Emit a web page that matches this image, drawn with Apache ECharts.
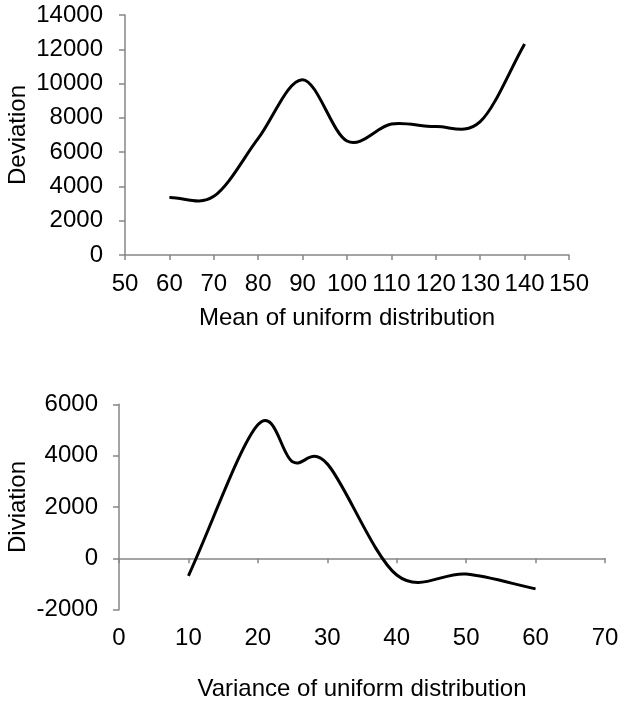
<!DOCTYPE html>
<html>
<head>
<meta charset="utf-8">
<script src="https://cdn.jsdelivr.net/npm/echarts@6/dist/echarts.min.js"></script>
<style>
html,body{margin:0;padding:0;background:#fff;}
#chart{width:619px;height:704px;}
</style>
</head>
<body>
<div id="chart"></div>
<script>
// ---- Data ----
var meanX = [60, 70, 80, 90, 100, 110, 120, 130, 140];
var meanDeviation = [3350, 3420, 6800, 10230, 6650, 7640, 7490, 7780, 12310];

var varianceX = [10, 20, 25, 30, 40, 50, 60];
var varianceDeviation = [-680, 5200, 3760, 3680, -650, -610, -1190];

var topXTicks = {min: 50, max: 150, interval: 10};
var topYTicks = {min: 0, max: 14000, interval: 2000};
var botXTicks = {min: 0, max: 70, interval: 10};
var botYTicks = {min: -2000, max: 6000, interval: 2000};

var FONT = "'Liberation Sans', Arial, sans-serif";
var AXIS_COLOR = '#868686';
var FS = 24;

// Excel-like smoothed line (Catmull-Rom with 1/6 tangents) drawn through the axis scales
function smoothRenderer(xs, ys) {
  return function (params, api) {
    if (params.dataIndex !== 0) return null;
    var pts = xs.map(function (x, i) { return api.coord([x, ys[i]]); });
    var n = pts.length;
    var first = [2 * pts[0][0] - pts[1][0], 2 * pts[0][1] - pts[1][1]];
    var last = [2 * pts[n - 1][0] - pts[n - 2][0], 2 * pts[n - 1][1] - pts[n - 2][1]];
    var d = 'M ' + pts[0][0] + ' ' + pts[0][1];
    for (var i = 0; i < n - 1; i++) {
      var p0 = i > 0 ? pts[i - 1] : first, p1 = pts[i], p2 = pts[i + 1];
      var p3 = i + 2 < n ? pts[i + 2] : last;
      var c1x = p1[0] + (p2[0] - p0[0]) / 6, c1y = p1[1] + (p2[1] - p0[1]) / 6;
      var c2x = p2[0] - (p3[0] - p1[0]) / 6, c2y = p2[1] - (p3[1] - p1[1]) / 6;
      d += ' C ' + c1x + ' ' + c1y + ' ' + c2x + ' ' + c2y + ' ' + p2[0] + ' ' + p2[1];
    }
    return {
      type: 'path',
      shape: {pathData: d},
      style: {stroke: '#000', fill: null, lineWidth: 3, lineJoin: 'round', lineCap: 'butt'}
    };
  };
}

function pairs(xs, ys) { return xs.map(function (x, i) { return [x, ys[i]]; }); }
function plain(v) { return String(v); }

var labelStyle = {color: '#000', fontSize: FS, fontFamily: FONT, formatter: plain};
var nameStyle = {color: '#000', fontSize: FS, fontFamily: FONT};
var lineStyle = {color: AXIS_COLOR, width: 1.5};

var chart = echarts.init(document.getElementById('chart'), null, {renderer: 'canvas'});
chart.setOption({
  animation: false,
  backgroundColor: '#fff',
  textStyle: {fontFamily: FONT},
  grid: [
    {left: 125, top: 15, width: 444, height: 240, containLabel: false, outerBoundsMode: 'none'},
    {left: 119, top: 404.3, width: 486, height: 205.4, containLabel: false, outerBoundsMode: 'none'}
  ],
  xAxis: [
    {
      gridIndex: 0, type: 'value', position: 'bottom',
      min: topXTicks.min, max: topXTicks.max, interval: topXTicks.interval,
      name: 'Mean of uniform distribution', nameLocation: 'middle', nameGap: 51, nameTextStyle: nameStyle,
      nameMoveOverlap: false,
      axisLine: {show: true, onZero: false, lineStyle: lineStyle},
      axisTick: {show: true, inside: false, length: 5, lineStyle: lineStyle},
      axisLabel: Object.assign({margin: 17, hideOverlap: false, showMinLabel: true, showMaxLabel: true}, labelStyle),
      splitLine: {show: false}
    },
    {
      gridIndex: 1, type: 'value', position: 'bottom',
      min: botXTicks.min, max: botXTicks.max, interval: botXTicks.interval,
      axisLine: {show: true, onZero: true, lineStyle: lineStyle},
      axisTick: {show: true, inside: false, length: 5, lineStyle: lineStyle},
      axisLabel: {show: false},
      splitLine: {show: false}
    },
    {
      gridIndex: 1, type: 'value', position: 'bottom',
      min: botXTicks.min, max: botXTicks.max, interval: botXTicks.interval,
      name: 'Variance of uniform distribution', nameLocation: 'middle', nameGap: 68, nameTextStyle: nameStyle,
      nameMoveOverlap: false,
      axisLine: {show: false, onZero: false},
      axisTick: {show: false},
      axisLabel: Object.assign({margin: 17, hideOverlap: false, showMinLabel: true, showMaxLabel: true}, labelStyle),
      splitLine: {show: false}
    }
  ],
  yAxis: [
    {
      gridIndex: 0, type: 'value', position: 'left',
      min: topYTicks.min, max: topYTicks.max, interval: topYTicks.interval,
      name: 'Deviation', nameLocation: 'middle', nameGap: 95, nameTextStyle: nameStyle,
      nameMoveOverlap: false,
      axisLine: {show: true, onZero: false, lineStyle: lineStyle},
      axisTick: {show: true, inside: false, length: 6, lineStyle: lineStyle},
      axisLabel: Object.assign({margin: 22, hideOverlap: false, showMinLabel: true, showMaxLabel: true}, labelStyle),
      splitLine: {show: false}
    },
    {
      gridIndex: 1, type: 'value', position: 'left',
      min: botYTicks.min, max: botYTicks.max, interval: botYTicks.interval,
      name: 'Diviation', nameLocation: 'middle', nameGap: 89, nameTextStyle: nameStyle,
      nameMoveOverlap: false,
      axisLine: {show: true, onZero: false, lineStyle: lineStyle},
      axisTick: {show: true, inside: false, length: 6, lineStyle: lineStyle},
      axisLabel: Object.assign({margin: 21, hideOverlap: false, showMinLabel: true, showMaxLabel: true}, labelStyle),
      splitLine: {show: false}
    }
  ],
  series: [
    {
      type: 'custom', xAxisIndex: 0, yAxisIndex: 0,
      data: pairs(meanX, meanDeviation),
      encode: {x: 0, y: 1},
      renderItem: smoothRenderer(meanX, meanDeviation),
      silent: true, clip: false
    },
    {
      type: 'custom', xAxisIndex: 1, yAxisIndex: 1,
      data: pairs(varianceX, varianceDeviation),
      encode: {x: 0, y: 1},
      renderItem: smoothRenderer(varianceX, varianceDeviation),
      silent: true, clip: false
    }
  ]
});
</script>
</body>
</html>
